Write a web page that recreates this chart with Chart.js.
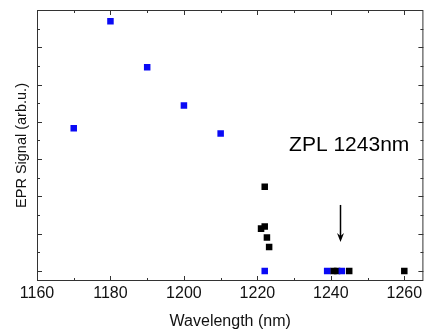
<!DOCTYPE html>
<html><head><meta charset="utf-8">
<script src="https://cdn.jsdelivr.net/npm/chart.js@4.4.1/dist/chart.umd.min.js"></script>
<style>html,body{margin:0;padding:0;background:#fff}#wrap{width:428px;height:331px}</style>
</head><body><div id="wrap"><canvas id="c" width="428" height="331"></canvas></div>
<script>
// Data
const blueX = [1170, 1180, 1190, 1200, 1210, 1222, 1239, 1243];
const blueY = [7.66, 13.39, 10.93, 8.87, 7.37, 0, 0, 0];
const blackX = [1222, 1222, 1221, 1222.6, 1223.2, 1240.7, 1241.7, 1245, 1260];
const blackY = [4.52, 2.39, 2.27, 1.80, 1.29, 0, 0, 0, 0];
const xTickLabels = [1160, 1180, 1200, 1220, 1240, 1260];
const xMinorTicks = [1170, 1190, 1210, 1230, 1250];
const yMajorTicks = [0, 2, 4, 6, 8, 10, 12];
const yMinorTicks = [1, 3, 5, 7, 9, 11, 13];
const annotationText = 'ZPL 1243nm';
const arrowX = 1242.5, arrowFromY = 3.54, arrowToY = 1.55;
const labelPos = {x: 1245.0, y: 6.75};

const toPts = (xs, ys) => xs.map((x, i) => ({x, y: ys[i]}));
const FONT = '"Liberation Sans", Arial, sans-serif';

const framePlugin = {
  id: 'frame',
  afterDatasetsDraw(chart) {
    const {ctx, chartArea: a, scales: {x, y}} = chart;
    ctx.save();
    ctx.strokeStyle = '#333';
    ctx.lineWidth = 1;
    ctx.strokeRect(a.left + 0.5, a.top + 0.5, a.right - a.left - 1, a.bottom - a.top - 1);
    const tick = (x1, y1, x2, y2) => { ctx.beginPath(); ctx.moveTo(x1, y1); ctx.lineTo(x2, y2); ctx.stroke(); };
    xTickLabels.forEach(v => { const p = Math.round(x.getPixelForValue(v)) + 0.5; tick(p, a.bottom, p, a.bottom - 5); tick(p, a.top, p, a.top + 5); });
    xMinorTicks.forEach(v => { const p = Math.round(x.getPixelForValue(v)) + 0.5; tick(p, a.bottom, p, a.bottom - 3); tick(p, a.top, p, a.top + 3); });
    yMajorTicks.forEach(v => { const p = Math.round(y.getPixelForValue(v)) + 0.5; tick(a.left, p, a.left + 5, p); tick(a.right, p, a.right - 5, p); });
    yMinorTicks.forEach(v => { const p = Math.round(y.getPixelForValue(v)) + 0.5; tick(a.left, p, a.left + 3, p); tick(a.right, p, a.right - 3, p); });
    // annotation
    ctx.fillStyle = '#000';
    ctx.font = '21px ' + FONT;
    ctx.textAlign = 'center';
    ctx.textBaseline = 'middle';
    ctx.fillText(annotationText, x.getPixelForValue(labelPos.x), y.getPixelForValue(labelPos.y));
    const ax = Math.round(x.getPixelForValue(arrowX)) + 0.5;
    const y1 = y.getPixelForValue(arrowFromY), y2 = y.getPixelForValue(arrowToY);
    ctx.strokeStyle = '#000';
    ctx.lineWidth = 1.5;
    tick(ax, y1, ax, y2 - 6);
    ctx.beginPath();
    ctx.moveTo(ax - 3.5, y2 - 9);
    ctx.lineTo(ax, y2 - 6);
    ctx.lineTo(ax + 3.5, y2 - 9);
    ctx.lineTo(ax, y2);
    ctx.closePath();
    ctx.fill();
    ctx.restore();
  }
};

new Chart(document.getElementById('c'), {
  type: 'scatter',
  data: {
    datasets: [
      {data: toPts(blueX, blueY), backgroundColor: '#0a0af5', borderWidth: 0, pointStyle: 'rect', pointRadius: 4.6, order: 1},
      {data: toPts(blackX, blackY), backgroundColor: '#000', borderWidth: 0, pointStyle: 'rect', pointRadius: 4.6, order: 2}
    ]
  },
  options: {
    responsive: false,
    animation: false,
    layout: {padding: {top: 10, right: 4, left: 0, bottom: 0}},
    plugins: {legend: {display: false}, tooltip: {enabled: false}},
    scales: {
      x: {
        type: 'linear', min: 1160, max: 1265.2,
        grid: {display: false, drawTicks: false}, border: {display: false},
        afterBuildTicks: s => { s.ticks = xTickLabels.map(v => ({value: v})); },
        afterFit: s => { s.height = 50; },
        ticks: {color: '#111', font: {size: 16, family: FONT}, padding: 3, maxRotation: 0, callback: v => String(v)},
        title: {display: true, text: 'Wavelength (nm)', color: '#111', font: {size: 16, family: FONT}, padding: {top: 2, bottom: 0}}
      },
      y: {
        type: 'linear', min: -0.54, max: 14,
        grid: {display: false, drawTicks: false}, border: {display: false},
        ticks: {display: false},
        afterFit: s => { s.width = 37; },
        title: {display: true, text: 'EPR Signal (arb.u.)', color: '#111', font: {size: 14.5, family: FONT}, padding: {top: 13, bottom: 0}}
      }
    }
  },
  plugins: [framePlugin]
});
</script></body></html>
